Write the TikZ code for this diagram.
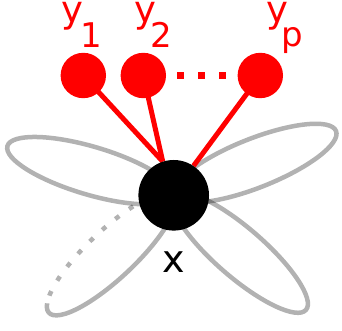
\documentclass[tikz,border=0pt]{standalone}
\usepackage{fontspec}
\setmainfont{DejaVu Sans}
\usetikzlibrary{backgrounds}
\newcommand\mysub[2]{\raisebox{#1}{\fontsize{34}{34}\selectfont #2}}
\begin{document}
\begin{tikzpicture}[x=1pt,y=1pt,
  petal/.style={draw=black, draw opacity=0.3, line width=4.5pt},
  ynode/.style={circle, fill=red, inner sep=0pt, minimum size=45.4pt},
  xnode/.style={circle, fill=black, inner sep=0pt, minimum size=70.6pt},
  redline/.style={draw=red, line width=5pt},
  reddots/.style={draw=red, line width=7pt, dash pattern=on 7pt off 14pt, shorten <=11pt, shorten >=11pt},
  lab/.style={text=red, inner sep=0pt, anchor=base west, font=\fontsize{37}{37}\selectfont}
]
\useasboundingbox (0,0) rectangle (342,331);
\coordinate (c) at (173.7,135.7);
% nodes
\node[xnode] (X) at (c) {};
\node[ynode] (y1) at (83.3,255.5) {};
\node[ynode] (y2) at (143.3,255.5) {};
\node[ynode] (yp) at (260.3,255.5) {};
\begin{scope}[on background layer]
% petals
\draw[petal, shift={(c)}, rotate=163.5] (86.7,0) ellipse [x radius=86.7, y radius=24];
\draw[petal, shift={(c)}, rotate=21.6] (87.3,0) ellipse [x radius=87.3, y radius=24.5];
\draw[petal, shift={(c)}, rotate=-40.9] (87.5,0) ellipse [x radius=87.5, y radius=24.5];
\draw[petal, shift={(c)}, rotate=223.3] (0,0) arc [start angle=180, end angle=-20, x radius=85.7, y radius=24];
\draw[petal, dash pattern=on 5pt off 12pt, dash phase=9pt, shift={(c)}, rotate=223.3] (166.23,-8.21) arc [start angle=-20, end angle=-180, x radius=85.7, y radius=24];
% red connectors
\draw[redline] (y1.center) -- (X.108);
\draw[redline] (y2.center) -- (X.108);
\draw[redline] (yp.center) -- (X.56);
\draw[reddots] (y2.east) -- (yp.west);
\end{scope}
% labels
\node[lab] (l1) at (61,308) {y\kern-3pt\mysub{-25pt}{1}};
\node[lab] (l2) at (134,308) {y\kern-5.8pt\mysub{-24.5pt}{2}};
\node[lab] (lp) at (266,308) {y\kern-7pt\mysub{-24pt}{p}};
\node[inner sep=0pt, anchor=base, font=\fontsize{38}{38}\selectfont] (lx) at (174,58) {x};
\end{tikzpicture}
\end{document}
